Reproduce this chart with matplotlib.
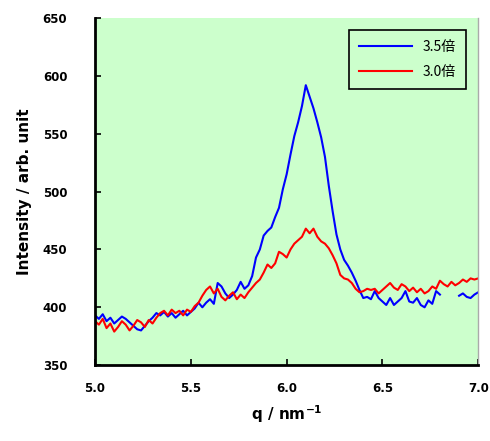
import matplotlib

matplotlib.use("Agg")

import matplotlib.pyplot as plt
import numpy as np

plt.rcParams["font.family"] = ["DejaVu Sans", "Noto Sans CJK JP"]

q = np.round(np.arange(5.0, 7.0001, 0.02), 2)

blue_35 = [
    393, 390, 394, 388, 391, 386, 389, 392, 390, 387,
    384, 381, 380, 384, 388, 391, 395, 393, 396, 392,
    395, 391, 394, 397, 393, 396, 399, 404, 400, 404,
    407, 403, 421, 418, 412, 408, 411, 415, 422, 416,
    419, 427, 443, 450, 462, 466, 469, 478, 486, 502,
    515, 532, 548, 560, 574, 592, 582, 572, 560, 547,
    530, 505, 483, 463, 450, 441, 436, 430, 423, 415,
    408, 409, 407, 414, 408, 405, 402, 408, 402, 405,
    408, 414, 405, 404, 408, 402, 400, 406, 403, 414,
    411, np.nan, np.nan, 406, np.nan, 410, 412, 409, 408, 411,
    413,
]

red_30 = [
    388, 385, 390, 382, 386, 379, 383, 388, 385, 380,
    384, 389, 387, 383, 389, 386, 391, 395, 397, 393,
    398, 395, 397, 393, 398, 396, 401, 404, 410, 415,
    418, 412, 416, 409, 406, 410, 413, 407, 411, 408,
    413, 417, 421, 424, 430, 437, 434, 438, 448, 446,
    443, 450, 455, 458, 461, 468, 464, 468, 461, 457,
    455, 451, 445, 438, 428, 425, 424, 421, 416, 413,
    414, 416, 415, 416, 412, 415, 418, 421, 417, 415,
    420, 418, 414, 417, 413, 416, 412, 414, 418, 416,
    423, 420, 418, 422, 419, 421, 424, 422, 425, 424,
    425,
]

x_ticks = [5.0, 5.5, 6.0, 6.5, 7.0]
y_ticks = [350, 400, 450, 500, 550, 600, 650]

fig = plt.figure(figsize=(4.9, 4.41), dpi=100)
ax = fig.add_axes([0.194, 0.172, 0.782, 0.787])
ax.set_facecolor("#ccffcc")

ax.plot(q, blue_35, color="#0000ff", lw=1.5, label="3.5倍")
ax.plot(q, red_30, color="#ff0000", lw=1.5, label="3.0倍")

ax.set_xlim(5.0, 7.0)
ax.set_ylim(350, 650)
ax.set_xticks(x_ticks)
ax.set_yticks(y_ticks)
ax.set_xticklabels([f"{v:.1f}" for v in x_ticks], fontweight="bold", fontsize=8.5)
ax.set_yticklabels([str(v) for v in y_ticks], fontweight="bold", fontsize=8.5)
ax.tick_params(axis="x", direction="in", length=4, width=1.2, pad=12)
ax.tick_params(axis="y", direction="in", length=4, width=1.2, pad=20)

ax.spines["top"].set_visible(False)
ax.spines["right"].set_color("#aaaaaa")
ax.spines["right"].set_linewidth(1.0)
ax.spines["left"].set_linewidth(2)
ax.spines["bottom"].set_linewidth(2)

ax.set_xlabel("q / nm$^{\\mathbf{-1}}$", fontweight="bold", fontsize=11, labelpad=6)
ax.set_ylabel("Intensity / arb. unit", fontweight="bold", fontsize=11, labelpad=8)

leg = ax.legend(
    loc="upper right",
    bbox_to_anchor=(0.985, 0.985),
    prop={"family": ["Noto Sans CJK JP"], "size": 10},
    frameon=True,
    fancybox=False,
    facecolor="#ccffcc",
    edgecolor="black",
    handlelength=3.8,
    borderpad=0.7,
    labelspacing=0.8,
)
leg.get_frame().set_linewidth(1.2)
leg.get_frame().set_alpha(1)

fig.savefig("out.png", dpi=100)
